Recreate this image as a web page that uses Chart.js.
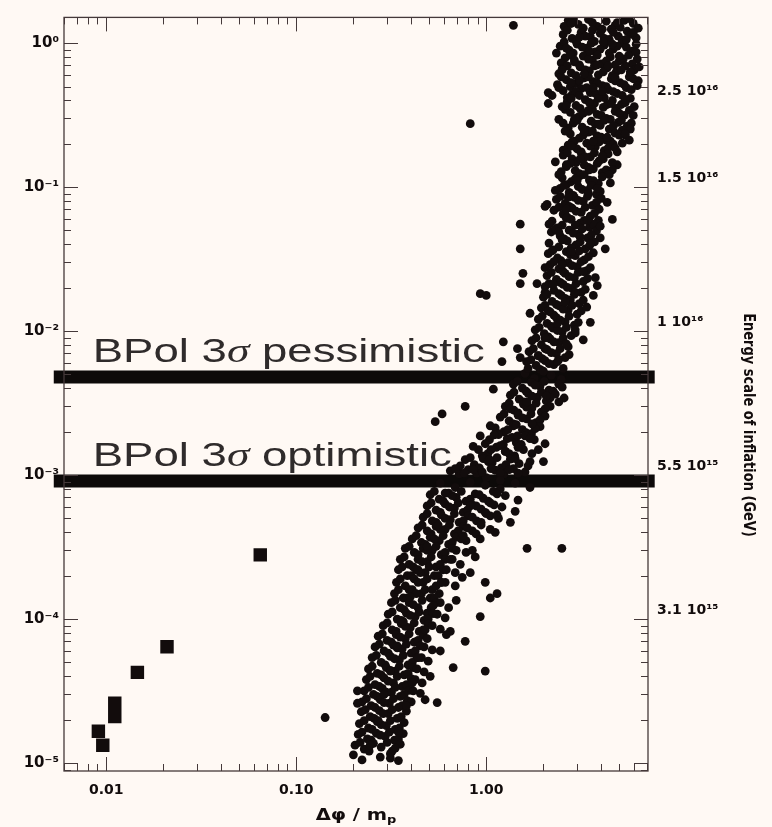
<!DOCTYPE html>
<html>
<head>
<meta charset="utf-8">
<script src="https://cdn.jsdelivr.net/npm/chart.js@4.4.1/dist/chart.umd.min.js"></script>
<style>
  html, body { margin: 0; padding: 0; background: #fff9f4; }
  #wrap { width: 772px; height: 827px; }
</style>
</head>
<body>
<div id="wrap"><canvas id="chart"></canvas></div>
<script>
// Model points: [delta phi / m_p, r]
const cloudPoints = [
  [2.70,1.44],[3.05,1.35],[3.45,1.46],[3.84,1.31],[4.28,1.42],[4.77,1.33],[5.32,1.44],[5.94,1.37],[3.24,1.27],[4.55,1.25],
  [2.57,1.31],[2.87,1.48],[3.62,1.39],[4.08,1.25],[5.07,1.29],[5.66,1.48],[6.31,1.27],
  [2.54,1.15],[2.83,1.08],[3.16,1.19],[3.53,1.11],[3.98,1.17],[4.44,1.06],[4.95,1.12],[5.52,1.21],[6.15,1.09],[3.71,1.03],
  [2.67,1.23],[2.97,1.03],[3.32,1.12],[4.18,1.08],[4.66,1.19],[5.20,1.05],[5.80,1.15],
  [2.45,0.953],[2.73,0.895],[3.01,0.984],[3.38,0.924],[3.75,0.869],[4.18,0.969],[4.66,0.91],[5.20,1.0],[5.87,0.881],[3.38,0.84],
  [2.57,1.02],[2.87,0.854],[3.20,0.939],[3.57,1.0],[3.98,0.91],[4.44,0.854],[4.89,0.953],[5.46,0.939],[6.15,0.984],
  [2.60,0.789],[2.91,0.741],[3.24,0.814],[3.62,0.764],[4.03,0.718],[4.50,0.802],[5.01,0.752],[5.62,0.827],[6.23,0.776],[2.34,0.854],
  [2.48,0.729],[2.77,0.827],[3.09,0.707],[3.45,0.776],[3.84,0.827],[4.28,0.752],[4.77,0.707],[5.26,0.776],[5.87,0.718],
  [2.51,0.663],[2.80,0.622],[3.12,0.684],[3.49,0.642],[3.89,0.603],[4.33,0.674],[4.83,0.632],[5.39,0.695],[6.01,0.653],
  [2.41,0.613],[2.67,0.695],[2.97,0.594],[3.32,0.653],[3.71,0.695],[4.13,0.632],[4.61,0.594],[5.14,0.653],[5.73,0.613],[6.38,0.684],
  [2.64,0.557],[2.94,0.523],[3.28,0.575],[3.66,0.54],[4.08,0.507],[4.55,0.566],[5.07,0.531],[5.66,0.584],[6.31,0.548],[2.37,0.515],
  [2.48,0.584],[2.77,0.499],[3.09,0.548],[3.45,0.584],[3.84,0.531],[4.28,0.499],[4.77,0.548],[5.32,0.515],[5.94,0.566],
  [2.54,0.468],[2.83,0.44],[3.16,0.483],[3.53,0.454],[3.93,0.426],[4.38,0.476],[4.89,0.447],[5.46,0.491],[2.12,0.454],[2.22,0.433],
  [2.41,0.491],[2.67,0.419],[2.97,0.461],[3.38,0.491],[3.75,0.447],[4.18,0.419],[4.66,0.461],[5.20,0.433],[5.80,0.476],
  [2.67,0.393],[2.97,0.369],[3.32,0.406],[3.71,0.381],[4.13,0.358],[4.61,0.4],[5.14,0.375],[5.73,0.413],[2.12,0.381],
  [2.51,0.363],[2.80,0.413],[3.12,0.352],[3.49,0.387],[3.89,0.413],[4.33,0.375],[4.83,0.352],[5.39,0.387],[6.01,0.363],
  [2.77,0.331],[3.09,0.31],[3.45,0.341],[3.84,0.32],[4.28,0.3],[4.77,0.336],[5.32,0.315],[2.41,0.296],
  [2.60,0.347],[2.91,0.296],[3.24,0.326],[3.62,0.347],[4.03,0.315],[4.50,0.296],[5.01,0.326],[5.66,0.341],
  [2.87,0.278],[3.20,0.261],[3.57,0.287],[3.98,0.269],[4.44,0.253],[4.95,0.282],[5.52,0.265],
  [2.70,0.257],[3.01,0.291],[3.38,0.249],[3.75,0.274],[4.18,0.291],[4.66,0.265],[5.20,0.249],[5.80,0.278],[2.54,0.278],
  [2.77,0.234],[3.09,0.219],[3.45,0.241],[3.84,0.227],[4.28,0.212],[4.77,0.237],[5.39,0.23],
  [2.60,0.245],[2.91,0.209],[3.24,0.23],[3.62,0.245],[4.03,0.222],[4.50,0.209],[5.01,0.23],[5.66,0.212],
  [2.70,0.196],[3.01,0.184],[3.38,0.202],[3.75,0.19],[4.18,0.179],[4.66,0.199],
  [2.54,0.181],[2.83,0.206],[3.16,0.176],[3.53,0.193],[3.93,0.206],[4.38,0.187],[4.89,0.176],[5.20,0.202],
  [2.54,0.167],[2.83,0.157],[3.16,0.173],[3.53,0.162],[3.93,0.152],[4.38,0.17],[4.89,0.143],[2.31,0.15],
  [2.67,0.173],[2.97,0.148],[3.32,0.162],[3.71,0.173],[4.13,0.157],[4.61,0.148],
  [2.64,0.139],[2.94,0.13],[3.28,0.143],[3.66,0.134],[4.08,0.126],[4.61,0.132],
  [2.48,0.128],[2.77,0.146],[3.09,0.124],[3.45,0.137],[3.84,0.146],[4.28,0.132],
  [2.51,0.116],[2.80,0.109],[3.12,0.12],[3.49,0.112],[3.89,0.106],
  [2.41,0.122],[2.64,0.104],[2.94,0.114],[3.28,0.122],[3.66,0.111],[4.08,0.118],[4.50,0.107],
  [2.45,0.0979],[2.73,0.0919],[3.05,0.101],[3.41,0.0948],[3.80,0.0891],[2.31,0.0948],
  [2.57,0.103],[2.87,0.0877],[3.20,0.0963],[3.57,0.103],[3.98,0.0933],
  [2.34,0.0822],[2.60,0.0771],[2.91,0.0849],[3.24,0.0797],[3.62,0.0748],[2.09,0.076],[4.03,0.0835],
  [2.45,0.0862],[2.73,0.0736],[3.05,0.081],[3.41,0.0862],[3.80,0.0784],
  [2.27,0.0691],[2.54,0.065],[2.83,0.0714],[3.16,0.0669],[3.53,0.0628],[3.93,0.0702],[2.04,0.0736],[4.61,0.0597],
  [2.41,0.0725],[2.67,0.0618],[2.97,0.068],[3.32,0.0725],[3.71,0.0658],
  [2.22,0.058],[2.51,0.0545],[2.80,0.0597],[3.12,0.0563],[3.49,0.0528],[3.89,0.0588],[1.51,0.0553],
  [2.37,0.052],[2.64,0.0607],[2.94,0.0545],[3.28,0.0588],[3.66,0.0553],[2.14,0.0553],
  [2.20,0.0488],[2.45,0.0458],[2.73,0.0503],[3.05,0.0472],[3.41,0.0444],[3.80,0.0496],
  [2.31,0.0512],[2.57,0.0437],[2.87,0.048],[3.20,0.0512],[3.57,0.0465],[3.98,0.0444],
  [2.14,0.0409],[2.41,0.0385],[2.67,0.0423],[2.97,0.0397],[3.32,0.0373],[3.71,0.0416],[1.51,0.0373],[4.23,0.0373],
  [2.25,0.0367],[2.51,0.043],[2.80,0.0379],[3.12,0.0416],[3.49,0.0391],
  [2.12,0.0345],[2.37,0.0322],[2.64,0.0356],[2.94,0.0334],[3.28,0.0312],[3.66,0.035],
  [2.22,0.0361],[2.48,0.0308],[2.77,0.034],[3.09,0.0361],[3.45,0.0329],
  [2.17,0.029],[2.41,0.0271],[2.70,0.0299],[3.01,0.028],[3.38,0.0263],[2.04,0.0276],
  [2.27,0.0304],[2.54,0.0259],[2.83,0.0285],[3.16,0.0304],[3.53,0.0276],
  [2.09,0.0243],[2.34,0.0229],[2.60,0.0252],[2.91,0.0235],[3.24,0.0221],[1.56,0.0252],[1.51,0.0214],[1.85,0.0214],
  [2.20,0.0256],[2.45,0.0218],[2.73,0.0239],[3.05,0.0256],[3.41,0.0232],
  [2.04,0.0204],[2.27,0.0192],[2.54,0.0211],[2.83,0.0198],[3.16,0.0186],[3.84,0.0207],[2.04,0.0186],
  [2.14,0.0214],[2.41,0.0182],[2.67,0.0201],[2.97,0.0214],[3.32,0.0195],
  [2.0,0.0172],[2.22,0.0161],[2.48,0.0177],[2.77,0.0165],[3.09,0.0155],[3.66,0.0177],[0.93,0.0182],[1.0,0.0177],
  [2.09,0.018],[2.34,0.0153],[2.60,0.0169],[2.91,0.018],[3.24,0.0164],
  [1.95,0.0145],[2.17,0.0136],[2.41,0.015],[2.70,0.014],[3.01,0.0131],[1.70,0.0133],
  [2.04,0.0151],[2.27,0.0129],[2.54,0.0142],[2.83,0.0151],[3.16,0.0138],
  [1.88,0.0121],[2.09,0.0113],[2.34,0.0124],[2.60,0.0116],[2.91,0.011],[3.53,0.0115],
  [1.97,0.0127],[2.20,0.0108],[2.45,0.0119],[2.73,0.0127],[3.05,0.0115],
  [1.81,0.0102],[2.02,0.0096],[2.25,0.0105],[2.51,0.0099],[2.80,0.0093],
  [1.90,0.0106],[2.12,0.00913],[2.37,0.0101],[2.64,0.0106],[2.94,0.00972],
  [1.74,0.00857],[1.95,0.00804],[2.17,0.00883],[2.41,0.0083],[2.70,0.00779],[3.24,0.0087],[1.23,0.00843],[1.46,0.00755],
  [1.83,0.00897],[2.04,0.00755],[2.27,0.00843],[2.54,0.00897],
  [1.68,0.00719],[1.88,0.00676],[2.09,0.00743],[2.34,0.00698],[2.60,0.00655],
  [1.77,0.00755],[1.97,0.00644],[2.20,0.00709],[2.45,0.00755],[2.73,0.00687],
  [1.63,0.00614],[1.83,0.00577],[2.04,0.00624],[2.27,0.00586],[2.54,0.0055],[1.21,0.00614],[1.51,0.00655],
  [1.72,0.00634],[1.92,0.00542],[2.14,0.00595],[2.41,0.00634],
  [1.60,0.00509],[1.79,0.0047],[2.0,0.00526],[2.20,0.00493],[2.48,0.00462],
  [1.39,0.00428],[1.55,0.00402],[1.73,0.00441],[1.92,0.00415],[2.14,0.00389],[2.41,0.00428],[1.09,0.00395],
  [1.46,0.00448],[1.62,0.00383],[1.81,0.00421],[2.02,0.00448],[2.25,0.00383],[2.51,0.00408],
  [1.34,0.00359],[1.49,0.00337],[1.66,0.0037],[1.86,0.00348],[2.07,0.00327],[2.31,0.00365],[2.57,0.00343],
  [1.40,0.00377],[1.57,0.00322],[1.74,0.00354],[1.95,0.00377],[2.17,0.00343],[2.41,0.00322],
  [1.26,0.003],[1.40,0.00282],[1.57,0.00311],[1.74,0.00292],[1.95,0.00274],[2.17,0.003],[0.775,0.003],
  [1.32,0.00316],[1.47,0.0027],[1.63,0.00296],[1.83,0.00316],[2.04,0.00288],
  [1.185,0.00253],[1.32,0.00238],[1.47,0.00261],[1.63,0.00246],[1.83,0.00231],[2.04,0.00257],[0.586,0.00266],[0.539,0.00235],
  [1.24,0.00266],[1.39,0.00227],[1.55,0.0025],[1.72,0.00266],[1.92,0.00242],
  [1.115,0.00213],[1.24,0.002],[1.39,0.0022],[1.55,0.00207],[1.73,0.00194],[1.92,0.00217],
  [1.05,0.0022],[1.16,0.00194],[1.30,0.00207],[1.44,0.00224],[1.62,0.00197],[1.81,0.0021],
  [0.93,0.00187],[1.04,0.00176],[1.16,0.00191],[1.29,0.00179],[1.44,0.00168],[1.60,0.00187],[1.79,0.00176],[2.04,0.00165],
  [0.988,0.00165],[1.10,0.0019],[1.23,0.00163],[1.37,0.00183],[1.53,0.00163],[1.70,0.00179],
  [0.91,0.0015],[1.02,0.00141],[1.13,0.00156],[1.26,0.00146],[1.41,0.00136],[1.57,0.0015],[1.74,0.00141],
  [0.854,0.00158],[0.953,0.00136],[1.06,0.0015],[1.185,0.0016],[1.32,0.00141],[1.47,0.00156],
  [0.775,0.00128],[0.865,0.00118],[0.965,0.0013],[1.075,0.00122],[1.20,0.00112],[1.34,0.00129],[1.49,0.0012],[1.70,0.00124],[2.0,0.00124],
  [0.824,0.00132],[0.92,0.00112],[1.025,0.00124],[1.14,0.00132],[1.27,0.00118],[1.42,0.0013],[0.73,0.00116],
  [0.647,0.00107],[0.72,0.00102],[0.804,0.00109],[0.89,0.00103],[1.0,0.00096],[1.115,0.00108],[1.24,0.00102],[1.39,0.00111],[1.60,0.00105],
  [0.687,0.00111],[0.766,0.00103],[0.854,0.00109],[0.953,0.00105],[1.06,0.00111],[1.185,0.00103],[1.32,0.00109],[1.47,0.00103],
  [0.573,0.00088],[0.687,0.00082],[0.824,0.00089],[0.988,0.00085],[1.185,0.0008],[1.42,0.00088],[1.70,0.00082],
  [0.507,0.00073],[0.566,0.00068],[0.634,0.00075],[0.695,0.0007],[0.783,0.00066],[0.875,0.00074],[0.965,0.00069],[1.09,0.00077],[1.26,0.00072],[1.47,0.00067],
  [0.533,0.00077],[0.594,0.00066],[0.662,0.00072],[0.739,0.00077],[0.824,0.00068],[0.92,0.00073],[1.025,0.00066],[1.14,0.00074],
  [0.489,0.00061],[0.545,0.00057],[0.608,0.00063],[0.68,0.00059],[0.757,0.00055],[0.845,0.00062],[0.94,0.00058],[1.05,0.00064],[1.21,0.0006],[1.42,0.00056],
  [0.513,0.00064],[0.573,0.00055],[0.64,0.0006],[0.712,0.00064],[0.795,0.00057],[0.885,0.00061],[0.988,0.00055],[1.10,0.00062],
  [0.466,0.00051],[0.52,0.00048],[0.58,0.00053],[0.647,0.00049],[0.72,0.00047],[0.804,0.00052],[0.89,0.00048],[1.0,0.00054],[1.16,0.0005],[1.34,0.00047],
  [0.489,0.00054],[0.545,0.00047],[0.608,0.0005],[0.68,0.00054],[0.757,0.00048],[0.845,0.00051],[0.94,0.00047],[1.05,0.00052],
  [0.438,0.00043],[0.489,0.00041],[0.545,0.00044],[0.608,0.00042],[0.68,0.00039],[0.757,0.00044],[0.845,0.00041],[0.94,0.00045],[1.115,0.0004],
  [0.46,0.00045],[0.513,0.00039],[0.573,0.00042],[0.64,0.00045],[0.712,0.00041],[0.795,0.00043],[0.885,0.00039],
  [0.408,0.00036],[0.456,0.00034],[0.507,0.00037],[0.566,0.00035],[0.634,0.00033],[0.695,0.00037],[0.783,0.00035],[0.93,0.00036],
  [0.428,0.00038],[0.477,0.00033],[0.533,0.00036],[0.594,0.00038],[0.662,0.00034],[0.739,0.00036],
  [0.375,0.00031],[0.418,0.00029],[0.466,0.00031],[0.52,0.0003],[0.58,0.00028],[0.662,0.00031],[0.783,0.00029],[1.64,0.00031],[2.5,0.00031],
  [0.393,0.00032],[0.438,0.00028],[0.489,0.0003],[0.545,0.00032],[0.608,0.00029],[0.695,0.0003],
  [0.353,0.00026],[0.393,0.00024],[0.438,0.00026],[0.489,0.00025],[0.545,0.00023],[0.608,0.00026],[0.73,0.00024],[0.875,0.00027],
  [0.37,0.00027],[0.413,0.00023],[0.46,0.00025],[0.513,0.00027],[0.573,0.00024],[0.662,0.00026],
  [0.345,0.00022],[0.384,0.0002],[0.428,0.00022],[0.477,0.00021],[0.533,0.0002],[0.594,0.00022],[0.687,0.00021],[0.824,0.00021],
  [0.361,0.00023],[0.403,0.0002],[0.45,0.00021],[0.501,0.00023],[0.559,0.0002],[0.617,0.00022],
  [0.337,0.00018],[0.375,0.00017],[0.418,0.00019],[0.466,0.00018],[0.52,0.00016],[0.58,0.00018],[0.687,0.00017],[0.988,0.00018],
  [0.353,0.00019],[0.393,0.00016],[0.438,0.00018],[0.489,0.00019],[0.545,0.00017],[0.608,0.00018],
  [0.329,0.00015],[0.366,0.00014],[0.408,0.00016],[0.456,0.00015],[0.507,0.00014],[0.566,0.00015],[1.14,0.00015],[1.05,0.00014],
  [0.345,0.00016],[0.384,0.00014],[0.428,0.00015],[0.477,0.00016],[0.533,0.00014],
  [0.317,0.00013],[0.353,0.00012],[0.393,0.00013],[0.438,0.00012],[0.489,0.00011],[0.545,0.00013],[0.634,0.00012],
  [0.332,1.35e-4],[0.37,1.16e-4],[0.413,1.26e-4],[0.46,1.35e-4],[0.513,1.2e-4],[0.573,1.3e-4],
  [0.305,1.08e-4],[0.34,1.0e-4],[0.38,1.1e-4],[0.423,1.04e-4],[0.471,9.8e-5],[0.525,1.09e-4],[0.608,1.02e-4],[0.93,1.04e-4],
  [0.32,1.12e-4],[0.357,9.8e-5],[0.398,1.06e-4],[0.444,1.12e-4],[0.495,1.0e-4],[0.552,1.08e-4],
  [0.287,9.0e-5],[0.32,8.4e-5],[0.357,9.3e-5],[0.398,8.7e-5],[0.444,8.2e-5],[0.495,9.2e-5],[0.573,8.5e-5],
  [0.301,9.4e-5],[0.336,8.2e-5],[0.375,8.9e-5],[0.418,9.4e-5],[0.466,8.4e-5],[0.52,9.0e-5],
  [0.27,7.6e-5],[0.301,7.1e-5],[0.336,7.8e-5],[0.375,7.3e-5],[0.418,6.9e-5],[0.466,7.7e-5],[0.647,8.2e-5],[0.775,7.0e-5],
  [0.284,7.9e-5],[0.317,6.9e-5],[0.353,7.5e-5],[0.393,7.9e-5],[0.438,7.1e-5],[0.489,7.3e-5],
  [0.26,6.4e-5],[0.29,6.0e-5],[0.325,6.6e-5],[0.361,6.2e-5],[0.403,5.8e-5],[0.45,6.5e-5],[0.52,6.1e-5],
  [0.274,6.7e-5],[0.305,5.8e-5],[0.34,6.3e-5],[0.38,6.7e-5],[0.423,6.0e-5],[0.471,6.4e-5],
  [0.251,5.4e-5],[0.28,5.0e-5],[0.313,5.5e-5],[0.349,5.2e-5],[0.388,4.8e-5],[0.432,5.4e-5],[0.495,5.1e-5],
  [0.264,5.6e-5],[0.294,4.8e-5],[0.329,5.3e-5],[0.366,5.6e-5],[0.408,5.0e-5],[0.456,5.4e-5],
  [0.24,4.5e-5],[0.267,4.2e-5],[0.298,4.6e-5],[0.332,4.35e-5],[0.37,4.1e-5],[0.413,4.6e-5],[0.471,4.3e-5],[0.67,4.6e-5],[0.988,4.35e-5],
  [0.251,4.7e-5],[0.28,4.1e-5],[0.313,4.4e-5],[0.349,4.7e-5],[0.388,4.2e-5],[0.432,4.5e-5],
  [0.234,3.8e-5],[0.26,3.5e-5],[0.29,3.9e-5],[0.325,3.6e-5],[0.361,3.4e-5],[0.403,3.85e-5],[0.46,3.6e-5],
  [0.245,4.0e-5],[0.274,3.4e-5],[0.305,3.7e-5],[0.34,4.0e-5],[0.38,3.5e-5],[0.423,3.8e-5],
  [0.228,3.17e-5],[0.255,3.0e-5],[0.284,3.3e-5],[0.317,3.1e-5],[0.353,2.9e-5],[0.393,3.2e-5],[0.45,3.05e-5],[0.21,3.17e-5],
  [0.24,3.35e-5],[0.267,2.9e-5],[0.298,3.1e-5],[0.332,3.35e-5],[0.37,3.0e-5],[0.413,3.17e-5],
  [0.222,2.66e-5],[0.248,2.5e-5],[0.277,2.75e-5],[0.309,2.6e-5],[0.345,2.43e-5],[0.384,2.71e-5],[0.552,2.63e-5],[0.21,2.6e-5],
  [0.234,2.8e-5],[0.26,2.43e-5],[0.29,2.63e-5],[0.325,2.8e-5],[0.361,2.5e-5],[0.403,2.66e-5],
  [0.22,2.27e-5],[0.245,2.1e-5],[0.274,2.31e-5],[0.305,2.2e-5],[0.34,2.04e-5],[0.38,2.29e-5],[0.142,2.07e-5],
  [0.231,2.35e-5],[0.257,2.04e-5],[0.287,2.2e-5],[0.32,2.35e-5],[0.357,2.1e-5],
  [0.215,1.88e-5],[0.24,1.75e-5],[0.267,1.94e-5],[0.298,1.82e-5],[0.332,1.71e-5],[0.37,1.91e-5],
  [0.228,1.97e-5],[0.251,1.71e-5],[0.28,1.85e-5],[0.313,1.97e-5],[0.349,1.75e-5],
  [0.212,1.58e-5],[0.237,1.47e-5],[0.264,1.61e-5],[0.294,1.53e-5],[0.329,1.44e-5],[0.366,1.6e-5],
  [0.222,1.64e-5],[0.248,1.44e-5],[0.277,1.56e-5],[0.309,1.64e-5],[0.345,1.47e-5],
  [0.204,1.33e-5],[0.228,1.25e-5],[0.255,1.37e-5],[0.28,1.29e-5],[0.32,1.21e-5],[0.353,1.35e-5],
  [0.217,1.39e-5],[0.242,1.21e-5],[0.301,1.39e-5],[0.332,1.27e-5],
  [0.2,1.14e-5],[0.222,1.05e-5],[0.277,1.1e-5],[0.313,1.16e-5],[0.345,1.04e-5],
  [2.80,1.37],[3.62,1.23],[4.89,1.39],[5.94,1.19],[3.09,1.10],[4.13,1.02],[5.46,1.06],[2.64,0.924],[3.49,0.881],[4.61,0.984],
  [6.15,0.867],[2.91,0.764],[3.84,0.707],[5.01,0.814],[2.51,0.653],[3.28,0.613],[4.38,0.695],[5.73,0.632],[2.80,0.531],[3.66,0.491],
  [4.77,0.575],[6.23,0.507],[3.09,0.433],[4.08,0.461],[5.39,0.406],[2.64,0.369],[3.45,0.336],[4.55,0.381],[5.94,0.315],[2.94,0.3],
  [3.89,0.274],[5.14,0.291],[3.28,0.245],[4.33,0.222],[5.73,0.253],[2.80,0.193],[3.66,0.209],[4.77,0.187],[3.12,0.157],[4.08,0.165],
  [2.64,0.143],[3.49,0.132],[4.44,0.122],[3.01,0.111],[3.84,0.0979],[2.70,0.0849],[3.45,0.0905],[4.33,0.0784],
  [2.64,0.0702],[3.41,0.0588],[2.41,0.0488],[3.12,0.0451],[3.98,0.0536],[2.80,0.0356],[3.53,0.0403],[2.51,0.029],[3.24,0.0259],
  [2.25,0.0211],[2.94,0.0186],[3.75,0.0235],[2.60,0.0159],[2.12,0.0138],[3.38,0.0147],[2.37,0.0113],[2.94,0.0102],[2.04,0.00897],
  [2.64,0.00816],[1.88,0.00676],[2.37,0.00614],[1.66,0.0055],[2.07,0.00354],[1.64,0.00322],[1.34,0.00288],[1.74,0.00227],
  [1.46,0.00187],[1.88,0.0015],[1.26,0.00146],[1.04,0.00128],[1.66,0.00116],[1.185,0.00092],
  [0.608,0.00075],[0.824,0.00061],[1.14,0.00053],[0.559,0.00045],[0.757,0.00038],[1.05,0.00042],[0.489,0.00032],[0.647,0.00026],
  [0.845,0.0003],[0.438,0.00022],[0.58,0.00018],[0.748,1.95e-4],[0.398,1.42e-4],[0.526,1.24e-4],[0.695,1.35e-4],[0.366,9.6e-5],
  [0.477,8.4e-5],[0.617,7.8e-5],[0.34,6.5e-5],[0.438,5.4e-5],[0.573,6.0e-5],[0.313,4.35e-5],[0.408,3.6e-5],[0.507,4.0e-5],
  [0.29,3.0e-5],[0.38,2.5e-5],[0.477,2.75e-5],[0.27,1.97e-5],[0.345,1.64e-5],[0.245,1.33e-5],[0.313,1.08e-5],
  [1.39,1.33],[0.824,0.276],[5.39,0.235]
];

// Small-field models drawn as squares
const squarePoints = [
  [0.0647,2.79e-4],[0.0209,6.42e-5],[0.0146,4.26e-5],
  [0.0111,2.6e-5],[0.0111,2.1e-5],[0.0091,1.66e-5],[0.0096,1.33e-5]
];

// BPol 3 sigma detection limits on r
const bpolLevels = [0.0048, 0.00091];
const bpolNames = ['pessimistic', 'optimistic'];
const bpolSpan = [0.0053, 7.7];

const xTickValues = [0.01, 0.1, 1];
const xTickText = ['0.01', '0.10', '1.00'];
const yTickValues = [1, 0.1, 0.01, 0.001, 1e-4, 1e-5];
const yTickText = ['10\u2070', '10\u207B\u00B9', '10\u207B\u00B2', '10\u207B\u00B3', '10\u207B\u2074', '10\u207B\u2075'];
const energyTickValues = [0.4, 0.1, 0.01, 0.001, 1e-4];
const energyTickText = ['2.5 10\u00B9\u2076', '1.5 10\u00B9\u2076', '1 10\u00B9\u2076', '5.5 10\u00B9\u2075', '3.1 10\u00B9\u2075'];

const ink = '#120c0c';
const axisInk = '#45393a';

// frame of the plot plus inward log ticks on all four sides
const frameTicks = {
  id: 'frameTicks',
  afterDraw(chart) {
    const { ctx, chartArea: a, scales } = chart;
    ctx.save();
    ctx.strokeStyle = axisInk;
    ctx.lineWidth = 1.3;
    ctx.strokeRect(a.left, a.top, a.right - a.left, a.bottom - a.top);
    ctx.lineWidth = 1;
    const seg = (x1, y1, x2, y2) => { ctx.beginPath(); ctx.moveTo(x1, y1); ctx.lineTo(x2, y2); ctx.stroke(); };
    const each = (scale, cb) => {
      const lo = Math.floor(Math.log10(scale.min));
      const hi = Math.ceil(Math.log10(scale.max));
      for (let e = lo; e <= hi; e++) {
        for (let m = 1; m < 10; m++) {
          const v = m * Math.pow(10, e);
          if (v < scale.min || v > scale.max) continue;
          cb(Math.round(scale.getPixelForValue(v)) + 0.5, m === 1 ? 14 : 7);
        }
      }
    };
    each(scales.x, (px, len) => { seg(px, a.bottom, px, a.bottom - len); seg(px, a.top, px, a.top + len); });
    each(scales.y, (py, len) => { seg(a.left, py, a.left + len, py); seg(a.right, py, a.right - len, py); });
    ctx.restore();
  }
};

// BPol labels above each limit line, plus axis titles
const labels = {
  id: 'labels',
  beforeDatasetsDraw(chart) {
    const { ctx, scales } = chart;
    ctx.save();
    ctx.fillStyle = '#2f2b2b';
    ctx.textBaseline = 'alphabetic';
    bpolLevels.forEach((r, i) => {
      ctx.save();
      ctx.translate(scales.x.getPixelForValue(0.0085), scales.y.getPixelForValue(r) - 15);
      ctx.scale(1.38, 1);
      const parts = [
        ['BPol 3', '33px "Liberation Sans"'],
        ['\u03C3', 'italic 33px "Liberation Serif"'],
        [' ' + bpolNames[i], '33px "Liberation Sans"']
      ];
      let cx = 0;
      parts.forEach(([t, f]) => { ctx.font = f; ctx.fillText(t, cx, 0); cx += ctx.measureText(t).width; });
      ctx.restore();
    });
    ctx.restore();
  },
  afterDraw(chart) {
    const { ctx, chartArea: a } = chart;
    ctx.save();
    ctx.fillStyle = ink;
    // x title: delta phi / m_p
    ctx.font = 'bold 15px "DejaVu Sans"';
    const main = '\u0394\u03C6 / m';
    const wMain = ctx.measureText(main).width;
    ctx.font = 'bold 10px "DejaVu Sans"';
    const wSub = ctx.measureText('p').width;
    ctx.save();
    ctx.translate((a.left + a.right) / 2, 820);
    ctx.scale(1.3, 1);
    const x0 = -(wMain + wSub) / 2;
    ctx.font = 'bold 15px "DejaVu Sans"';
    ctx.fillText(main, x0, 0);
    ctx.font = 'bold 10px "DejaVu Sans"';
    ctx.fillText('p', x0 + wMain, 3);
    ctx.restore();
    // right title
    ctx.save();
    ctx.translate(748, 425);
    ctx.rotate(Math.PI / 2);
    ctx.scale(1, 1.25);
    ctx.font = 'bold 13px "DejaVu Sans"';
    ctx.textAlign = 'center';
    ctx.textBaseline = 'middle';
    ctx.fillText('Energy scale of inflation (GeV)', 0, 0);
    ctx.restore();
    ctx.restore();
  }
};

const logAxis = (extra) => Object.assign({
  type: 'logarithmic',
  grid: { display: false, drawTicks: false },
  border: { display: false }
}, extra);

new Chart(document.getElementById('chart'), {
  type: 'scatter',
  data: {
    datasets: [
      {
        data: cloudPoints.map(([x, y]) => ({ x, y })),
        pointRadius: 4.4, pointBackgroundColor: ink, borderWidth: 0, pointBorderWidth: 0
      },
      {
        data: squarePoints.map(([x, y]) => ({ x, y })),
        pointStyle: 'rect', pointRadius: 9.5, pointBackgroundColor: ink, borderWidth: 0, pointBorderWidth: 0
      },
      ...bpolLevels.map(r => ({
        type: 'line',
        data: [{ x: bpolSpan[0], y: r }, { x: bpolSpan[1], y: r }],
        borderColor: '#0d0a09', borderWidth: 13, borderCapStyle: 'butt',
        pointRadius: 0, clip: false
      }))
    ]
  },
  options: {
    responsive: true,
    maintainAspectRatio: false,
    animation: false,
    layout: { padding: { top: 9, left: 0, right: 0, bottom: 0 } },
    plugins: { legend: { display: false }, tooltip: { enabled: false } },
    scales: {
      x: logAxis({
        min: 0.006, max: 7.1,
        afterBuildTicks: s => { s.ticks = xTickValues.map(v => ({ value: v })); },
        afterFit: s => { s.height = 56; },
        ticks: { autoSkip: false, maxRotation: 0, color: ink, padding: 11,
          font: { family: 'DejaVu Sans', weight: 'bold', size: 14 },
          callback: (v, i) => xTickText[i] }
      }),
      y: logAxis({
        position: 'left',
        min: 8.8e-6, max: 1.51,
        afterBuildTicks: s => { s.ticks = yTickValues.map(v => ({ value: v })); },
        afterFit: s => { s.width = 64; },
        ticks: { autoSkip: false, color: ink, padding: 5,
          font: { family: 'DejaVu Sans', weight: 'bold', size: 15 },
          callback: (v, i) => yTickText[i] }
      }),
      y2: logAxis({
        position: 'right',
        min: 8.8e-6, max: 1.51,
        afterBuildTicks: s => { s.ticks = energyTickValues.map(v => ({ value: v })); },
        afterFit: s => { s.width = 124; },
        ticks: { autoSkip: false, color: ink, padding: 9, labelOffset: -9,
          font: { family: 'DejaVu Sans', weight: 'bold', size: 14 },
          callback: (v, i) => energyTickText[i] }
      })
    }
  },
  plugins: [frameTicks, labels]
});
</script>
</body>
</html>
